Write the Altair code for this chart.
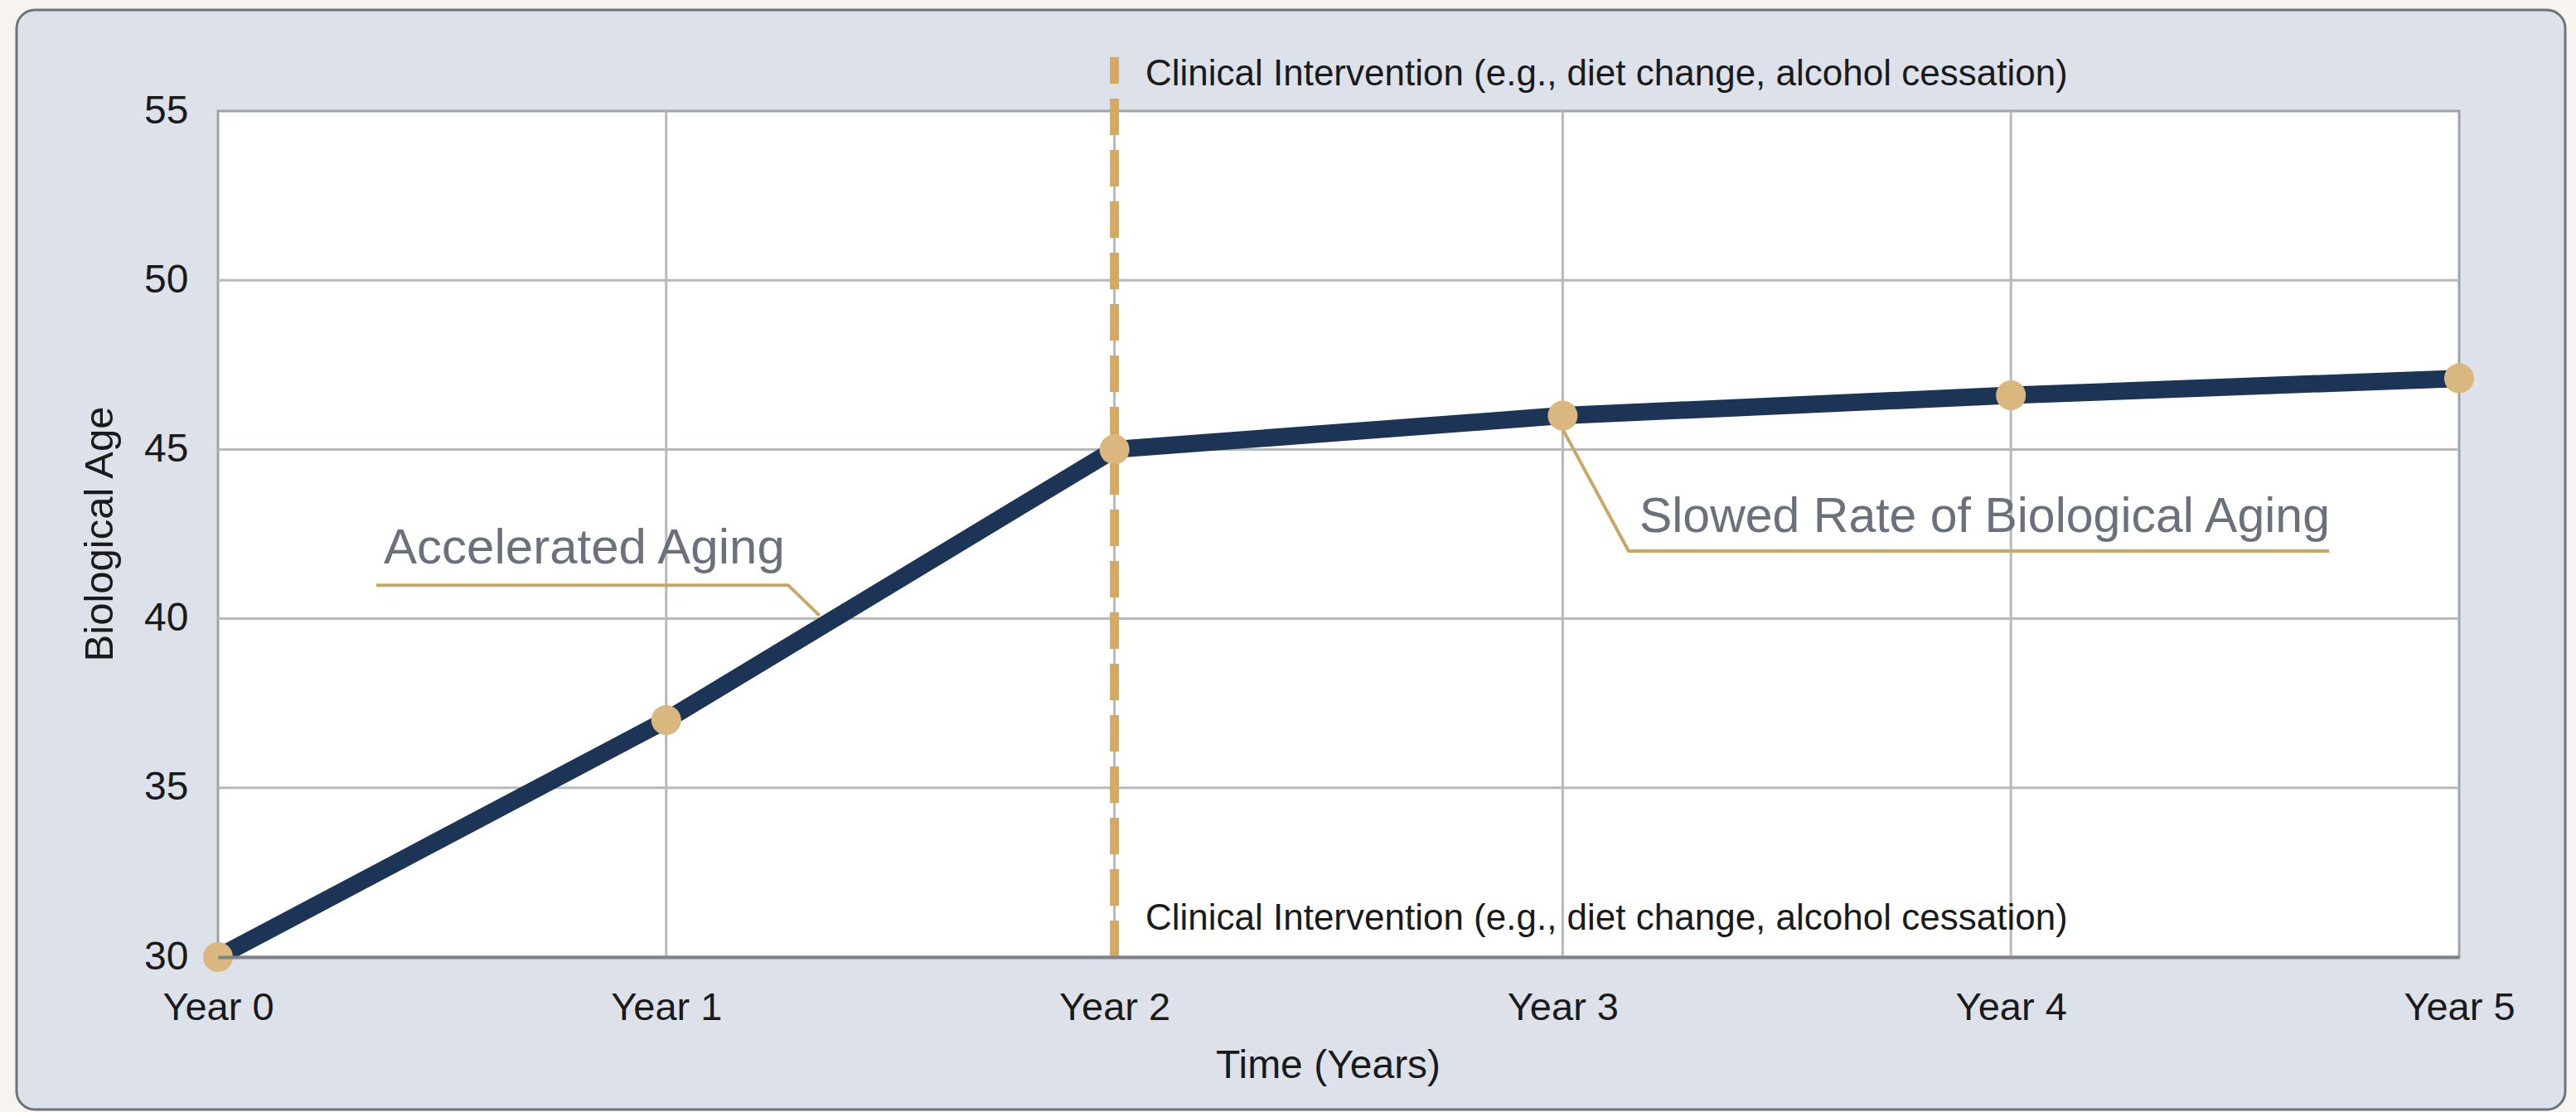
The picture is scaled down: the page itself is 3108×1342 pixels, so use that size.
import altair as alt
import pandas as pd

# ---------------- data ----------------
years = [0, 1, 2, 3, 4, 5]
bio_age = [30, 37, 45, 46, 46.6, 47.1]
y_ticks = [30, 35, 40, 45, 50, 55]
x_domain = [0, 5]
y_domain = [30, 55]

intervention_year = [2]
intervention_top = [56.6]
intervention_label = "Clinical Intervention (e.g., diet change, alcohol cessation)"
intervention_label_x = [2.069, 2.069]
intervention_label_y = [55.76, 30.81]

accel_label = ["Accelerated Aging"]
accel_label_x = [0.37]
accel_label_y = [41.63]
accel_leader_x = [0.353, 1.272, 1.342]
accel_leader_y = [40.99, 40.99, 40.09]

slow_label = ["Slowed Rate of Biological Aging"]
slow_label_x = [3.171]
slow_label_y = [42.56]
slow_leader_x = [3.0, 3.147, 4.71]
slow_leader_y = [45.6, 42.0, 42.0]

# ---------------- layout / style ----------------
W, H = 2704, 1021
FONT = "Liberation Sans"
NAVY = "#1c3556"
TAN = "#d9b77f"
GOLD = "#d5aa5e"
LEADER = "#c9a866"
GRID = "#b6b9bd"

xscale = alt.Scale(domain=x_domain, nice=False, zero=False)
yscale = alt.Scale(domain=y_domain, nice=False, zero=False)

x_axis = alt.Axis(
    values=years, labelExpr="'Year ' + datum.value", title="Time (Years)",
    grid=False, ticks=False, domain=True, domainColor="#7d8289", domainWidth=4,
    labelFont=FONT, labelFontSize=47, labelColor="#1a1a1a", labelPadding=38,
    labelFlush=False, labelOverlap=False,
    titleFont=FONT, titleFontSize=48, titleFontWeight="normal", titleColor="#1a1a1a",
    titleX=1339, titleY=145, titleBaseline="alphabetic", titleAlign="center",
    zindex=1,
)
y_axis = alt.Axis(
    values=y_ticks, title="Biological Age", grid=False, ticks=False, domain=False,
    labelFont=FONT, labelFontSize=48, labelColor="#1a1a1a", labelPadding=36,
    labelFlush=False, labelOverlap=False,
    titleFont=FONT, titleFontSize=49, titleFontWeight="normal", titleColor="#1a1a1a",
    titleAngle=270, titleX=-128, titleY=510, titleBaseline="alphabetic", titleAlign="center",
    zindex=1,
)

def X(field="x"):
    return alt.X(f"{field}:Q", scale=xscale, axis=x_axis)

def Y(field="y"):
    return alt.Y(f"{field}:Q", scale=yscale, axis=y_axis)

main_df = pd.DataFrame({"x": years, "y": bio_age})
grid_x_df = pd.DataFrame({"x": years[1:-1]})
grid_y_df = pd.DataFrame({"y": y_ticks[1:-1]})
plot_df = pd.DataFrame({"x": [x_domain[0]], "x2": [x_domain[1]],
                        "y": [y_domain[0]], "y2": [y_domain[1]]})
rule_df = pd.DataFrame({"x": intervention_year, "y": [y_domain[0]], "y2": intervention_top})
interv_txt_df = pd.DataFrame({"x": intervention_label_x, "y": intervention_label_y,
                              "t": [intervention_label] * 2})
leader_df = pd.DataFrame({
    "x": accel_leader_x + slow_leader_x,
    "y": accel_leader_y + slow_leader_y,
    "g": ["a"] * 3 + ["s"] * 3,
    "o": [0, 1, 2, 0, 1, 2],
})
accel_df = pd.DataFrame({"x": accel_label_x, "y": accel_label_y, "t": accel_label})
slow_df = pd.DataFrame({"x": slow_label_x, "y": slow_label_y, "t": slow_label})

# card background (decorative panel behind the plot)
card = alt.Chart(plot_df).mark_rect(
    fill="#dde2ea", stroke="#6e737a", strokeWidth=3, cornerRadius=22
).encode(x=alt.value(-243), x2=alt.value(2832), y=alt.value(-122), y2=alt.value(1205))

plot_bg = alt.Chart(plot_df).mark_rect(
    fill="white", stroke="#9ea3a9", strokeWidth=3
).encode(x=X("x"), x2="x2:Q", y=Y("y"), y2="y2:Q")

grid_v = alt.Chart(grid_x_df).mark_rule(color=GRID, strokeWidth=3).encode(x=X("x"))
grid_h = alt.Chart(grid_y_df).mark_rule(color=GRID, strokeWidth=3).encode(y=Y("y"))

interv_rule = alt.Chart(rule_df).mark_rule(
    color=GOLD, strokeWidth=11, strokeDash=[44, 18], strokeCap="butt"
).encode(x=X("x"), y=Y("y"), y2="y2:Q")

interv_text = alt.Chart(interv_txt_df).mark_text(
    align="left", baseline="alphabetic", font=FONT, fontSize=44, color="#1a1a1a"
).encode(x=X("x"), y=Y("y"), text="t:N")

leaders = alt.Chart(leader_df).mark_line(
    color=LEADER, strokeWidth=4
).encode(x=X("x"), y=Y("y"), detail="g:N", order="o:Q")

line = alt.Chart(main_df).mark_line(
    color=NAVY, strokeWidth=21, strokeJoin="round"
).encode(x=X("x"), y=Y("y"))

points = alt.Chart(main_df).mark_circle(
    size=1300, color=TAN, opacity=1
).encode(x=X("x"), y=Y("y"))

accel_text = alt.Chart(accel_df).mark_text(
    align="left", baseline="alphabetic", font=FONT, fontSize=60, color="#6b717b"
).encode(x=X("x"), y=Y("y"), text="t:N")

slow_text = alt.Chart(slow_df).mark_text(
    align="left", baseline="alphabetic", font=FONT, fontSize=59, color="#6b717b"
).encode(x=X("x"), y=Y("y"), text="t:N")

chart = alt.layer(
    card, plot_bg, grid_v, grid_h, interv_rule, interv_text, leaders,
    line, points, accel_text, slow_text
).properties(
    width=W, height=H,
    autosize=alt.AutoSizeParams(type="none"),
    padding={"left": 263, "top": 134, "right": 141, "bottom": 187},
    background="#f7f4ef",
).configure_view(strokeWidth=0)

chart.save("out.html", embed_options={"renderer": "svg", "actions": False})
